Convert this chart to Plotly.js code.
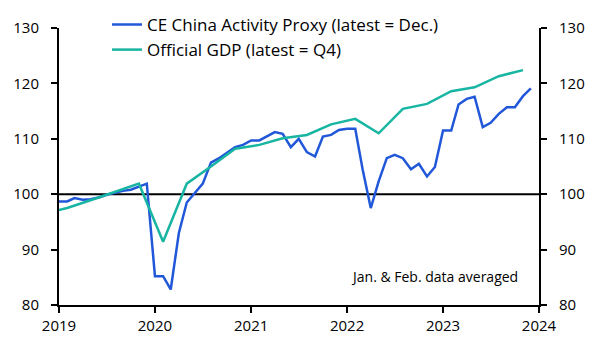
<!DOCTYPE html>
<html>
<head>
<meta charset="utf-8">
<script src="https://cdn.plot.ly/plotly-3.0.1.min.js"></script>
<style>html,body{margin:0;padding:0;background:#fff;}#chart{width:595px;height:350px;}</style>
</head>
<body>
<div id="chart"></div>
<script>
// Monthly activity proxy, Jan 2019 - Dec 2023
const proxyDates = [];
for (let y = 2019; y <= 2023; y++) {
  for (let m = 1; m <= 12; m++) proxyDates.push(y + '-' + String(m).padStart(2, '0') + '-01');
}
const proxyValues = [
  98.7, 98.7, 99.3, 99.0, 99.1, 99.4, 99.9, 100.3, 100.6, 100.8, 101.3, 101.9,
  85.2, 85.2, 82.8, 93.0, 98.5, 100.2, 101.9, 105.7, 106.5, 107.5, 108.5, 108.9,
  109.7, 109.7, 110.4, 111.2, 110.9, 108.5, 110.0, 107.6, 106.8, 110.4, 110.7, 111.6,
  111.8, 111.8, 104.5, 97.5, 102.3, 106.5, 107.1, 106.5, 104.5, 105.5, 103.2, 104.9,
  111.5, 111.5, 116.2, 117.2, 117.6, 112.1, 112.9, 114.5, 115.7, 115.7, 117.7, 119.1
];
// Quarterly official GDP (plotted mid-quarter), Q4 2018 - Q4 2023
const gdpDates = [
  '2018-11-01',
  '2019-02-01', '2019-05-01', '2019-08-01', '2019-11-01',
  '2020-02-01', '2020-05-01', '2020-08-01', '2020-11-01',
  '2021-02-01', '2021-05-01', '2021-08-01', '2021-11-01',
  '2022-02-01', '2022-05-01', '2022-08-01', '2022-11-01',
  '2023-02-01', '2023-05-01', '2023-08-01', '2023-11-01'
];
const gdpValues = [
  96.5,
  97.5, 98.9, 100.4, 101.9,
  91.4, 101.9, 105.0, 108.2,
  108.9, 110.1, 110.7, 112.6,
  113.6, 111.0, 115.4, 116.3,
  118.6, 119.3, 121.3, 122.4
];
const yTicks = [80, 90, 100, 110, 120, 130];
const baseline = 100;

const FONT = 'Open Sans, Noto Sans, sans-serif';

const traces = [
  {x: proxyDates, y: proxyValues, type: 'scatter', mode: 'lines',
   name: 'CE China Activity Proxy (latest = Dec.)',
   line: {color: '#2157d9', width: 2.5}, legendgroup: 'a'},
  {x: gdpDates, y: gdpValues, type: 'scatter', mode: 'lines',
   name: 'Official GDP (latest = Q4)',
   line: {color: '#17b5a2', width: 2.5}, legendgroup: 'b'},
  {x: [proxyDates[0]], y: [null], yaxis: 'y2', showlegend: false, hoverinfo: 'skip'}
];

const axisY = {
  range: [80, 130], tickvals: yTicks, ticks: 'outside', ticklen: 6, tickwidth: 2,
  tickcolor: '#000', showline: true, linecolor: '#000', linewidth: 2, ticklabelstandoff: 9,
  showgrid: false, zeroline: false, tickfont: {family: FONT, size: 15, color: '#000'}
};

const layout = {
  width: 595, height: 350,
  margin: {l: 59, r: 56, t: 28, b: 45, autoexpand: false},
  paper_bgcolor: '#fff', plot_bgcolor: '#fff',
  font: {family: FONT, color: '#000'},
  showlegend: true,
  legend: {x: 0.1, y: 1.076, xanchor: 'left', yanchor: 'top', bgcolor: 'rgba(0,0,0,0)',
           font: {family: FONT, size: 17, color: '#000'}, traceorder: 'grouped', tracegroupgap: 0},
  xaxis: {
    type: 'date', range: ['2019-01-01', '2024-01-01'], dtick: 'M12', tickformat: '%Y',
    ticks: 'outside', ticklen: 6, tickwidth: 2, tickcolor: '#000',
    showline: true, linecolor: '#000', linewidth: 2, showgrid: false, zeroline: false,
    tickfont: {family: FONT, size: 15, color: '#000'}
  },
  yaxis: Object.assign({}, axisY, {side: 'left'}),
  yaxis2: Object.assign({}, axisY, {side: 'right', overlaying: 'y'}),
  shapes: [{type: 'line', xref: 'paper', x0: 0, x1: 1, yref: 'y', y0: baseline, y1: baseline,
            line: {color: '#000', width: 2}, layer: 'below'}],
  annotations: [{xref: 'paper', yref: 'paper', x: 0.96, y: 0.102, xanchor: 'right', yanchor: 'middle',
                 text: 'Jan. & Feb. data averaged', showarrow: false,
                 font: {family: FONT, size: 14, color: '#000'}}]
};

Plotly.newPlot('chart', traces, layout, {displayModeBar: false, staticPlot: true});
</script>
</body>
</html>
